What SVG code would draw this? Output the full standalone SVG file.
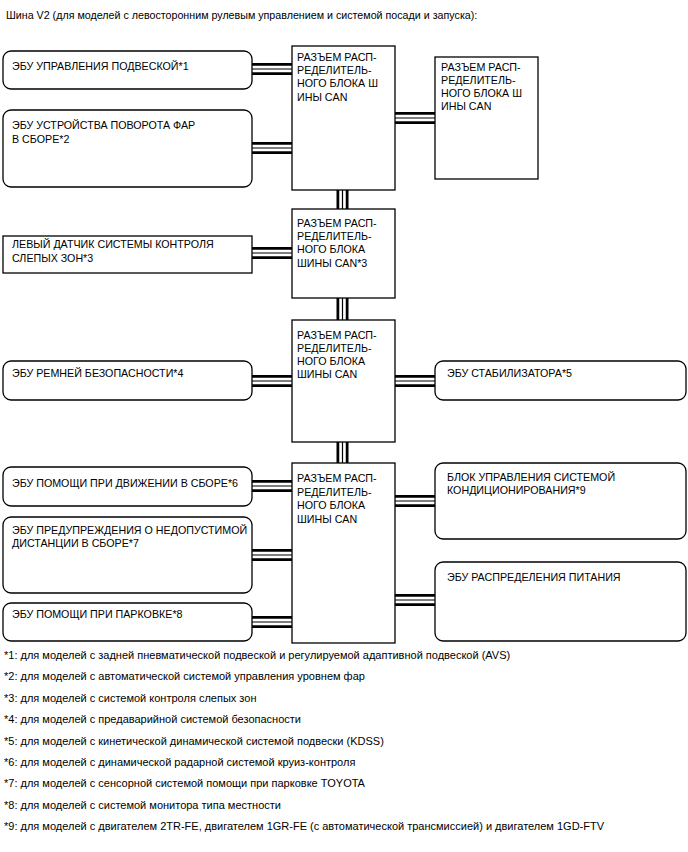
<svg xmlns="http://www.w3.org/2000/svg" width="688" height="852" viewBox="0 0 688 852">
<style>
text{font-family:"Liberation Sans",Arial,sans-serif;font-size:10.7px;fill:#000}
.fn{font-size:11px}
.box{fill:#fff;stroke:#000;stroke-width:1.3}
.c1{stroke:#000;stroke-width:12;fill:none}
.c2{stroke:#fff;stroke-width:6.5;fill:none}
.c3{stroke:#000;stroke-width:1.2;fill:none}
</style>
<rect width="688" height="852" fill="#fff"/>
<text x="6" y="19">Шина V2 (для моделей с левосторонним рулевым управлением и системой посади и запуска):</text>

<g id="connectors">
<path class="c1" d="M252 69H292M252 148H292M395 118H435M342.5 190V209M252 253H292M342.5 298V320M252 381H292M395 381H435M342.5 442V463M252 486H292M252 555H292M252 622H292M395 501H435M395 600H435"/>
<path class="c2" d="M252 69H292M252 148H292M395 118H435M342.5 190V209M252 253H292M342.5 298V320M252 381H292M395 381H435M342.5 442V463M252 486H292M252 555H292M252 622H292M395 501H435M395 600H435"/>
<path class="c3" d="M252 69H292M252 148H292M395 118H435M342.5 190V209M252 253H292M342.5 298V320M252 381H292M395 381H435M342.5 442V463M252 486H292M252 555H292M252 622H292M395 501H435M395 600H435"/>
</g>

<g id="suspension-ecu"><rect class="box" x="3" y="51" width="249" height="38" rx="8"/><text x="12" y="70">ЭБУ УПРАВЛЕНИЯ ПОДВЕСКОЙ*1</text></g>
<g id="headlamp-swivel-ecu"><rect class="box" x="3" y="110" width="249" height="77" rx="8"/><text x="12" y="129">ЭБУ УСТРОЙСТВА ПОВОРОТА ФАР</text><text x="12" y="143">В СБОРЕ*2</text></g>
<g id="hub1"><rect class="box" x="292" y="46" width="103" height="144"/><text x="297" y="60.7">РАЗЪЕМ РАСП-</text><text x="297" y="74">РЕДЕЛИТЕЛЬ-</text><text x="297" y="87.4">НОГО БЛОКА Ш</text><text x="297" y="100.8">ИНЫ CAN</text></g>
<g id="hub-right"><rect class="box" x="435" y="57" width="103" height="122"/><text x="441" y="70.7">РАЗЪЕМ РАСП-</text><text x="441" y="83.7">РЕДЕЛИТЕЛЬ-</text><text x="441" y="96.7">НОГО БЛОКА Ш</text><text x="441" y="109.7">ИНЫ CAN</text></g>
<g id="blind-spot-sensor"><rect class="box" x="3" y="236" width="249" height="37"/><text x="12" y="247.5">ЛЕВЫЙ ДАТЧИК СИСТЕМЫ КОНТРОЛЯ</text><text x="12" y="261.5">СЛЕПЫХ ЗОН*3</text></g>
<g id="hub2"><rect class="box" x="292" y="209" width="103" height="89"/><text x="297" y="226.5">РАЗЪЕМ РАСП-</text><text x="297" y="239.9">РЕДЕЛИТЕЛЬ-</text><text x="297" y="253.3">НОГО БЛОКА</text><text x="297" y="266.7">ШИНЫ CAN*3</text></g>
<g id="hub3"><rect class="box" x="292" y="320" width="103" height="122"/><text x="297" y="338.5">РАЗЪЕМ РАСП-</text><text x="297" y="351.5">РЕДЕЛИТЕЛЬ-</text><text x="297" y="364.5">НОГО БЛОКА</text><text x="297" y="377.5">ШИНЫ CAN</text></g>
<g id="seatbelt-ecu"><rect class="box" x="3" y="361" width="249" height="39" rx="8"/><text x="12" y="377.3">ЭБУ РЕМНЕЙ БЕЗОПАСНОСТИ*4</text></g>
<g id="stabilizer-ecu"><rect class="box" x="435" y="361" width="251" height="39" rx="8"/><text x="447" y="377.3">ЭБУ СТАБИЛИЗАТОРА*5</text></g>
<g id="hub4"><rect class="box" x="292" y="463" width="103" height="180"/><text x="297" y="482">РАЗЪЕМ РАСП-</text><text x="297" y="495.5">РЕДЕЛИТЕЛЬ-</text><text x="297" y="509">НОГО БЛОКА</text><text x="297" y="522.5">ШИНЫ CAN</text></g>
<g id="driving-support-ecu"><rect class="box" x="3" y="467" width="249" height="39" rx="8"/><text x="12" y="486.7">ЭБУ ПОМОЩИ ПРИ ДВИЖЕНИИ В СБОРЕ*6</text></g>
<g id="clearance-warning-ecu"><rect class="box" x="3" y="517" width="249" height="76" rx="8"/><text x="12" y="534">ЭБУ ПРЕДУПРЕЖДЕНИЯ О НЕДОПУСТИМОЙ</text><text x="12" y="547.4">ДИСТАНЦИИ В СБОРЕ*7</text></g>
<g id="parking-assist-ecu"><rect class="box" x="3" y="603" width="249" height="38" rx="8"/><text x="12" y="618">ЭБУ ПОМОЩИ ПРИ ПАРКОВКЕ*8</text></g>
<g id="air-conditioning-unit"><rect class="box" x="435" y="463" width="251" height="76" rx="8"/><text x="447" y="480.7">БЛОК УПРАВЛЕНИЯ СИСТЕМОЙ</text><text x="447" y="494.1">КОНДИЦИОНИРОВАНИЯ*9</text></g>
<g id="power-distribution-ecu"><rect class="box" x="435" y="562" width="251" height="79" rx="8"/><text x="447" y="580.7">ЭБУ РАСПРЕДЕЛЕНИЯ ПИТАНИЯ</text></g>

<g id="footnotes" class="fn">
<text class="fn" x="4" y="659">*1: для моделей с задней пневматической подвеской и регулируемой адаптивной подвеской (AVS)</text>
<text class="fn" x="4" y="680.4">*2: для моделей с автоматической системой управления уровнем фар</text>
<text class="fn" x="4" y="701.8">*3: для моделей с системой контроля слепых зон</text>
<text class="fn" x="4" y="723.2">*4: для моделей с предаварийной системой безопасности</text>
<text class="fn" x="4" y="744.6">*5: для моделей с кинетической динамической системой подвески (KDSS)</text>
<text class="fn" x="4" y="766">*6: для моделей с динамической радарной системой круиз-контроля</text>
<text class="fn" x="4" y="787.4">*7: для моделей с сенсорной системой помощи при парковке TOYOTA</text>
<text class="fn" x="4" y="808.8">*8: для моделей с системой монитора типа местности</text>
<text class="fn" x="4" y="830.2">*9: для моделей с двигателем 2TR-FE, двигателем 1GR-FE (с автоматической трансмиссией) и двигателем 1GD-FTV</text>
</g>
</svg>
